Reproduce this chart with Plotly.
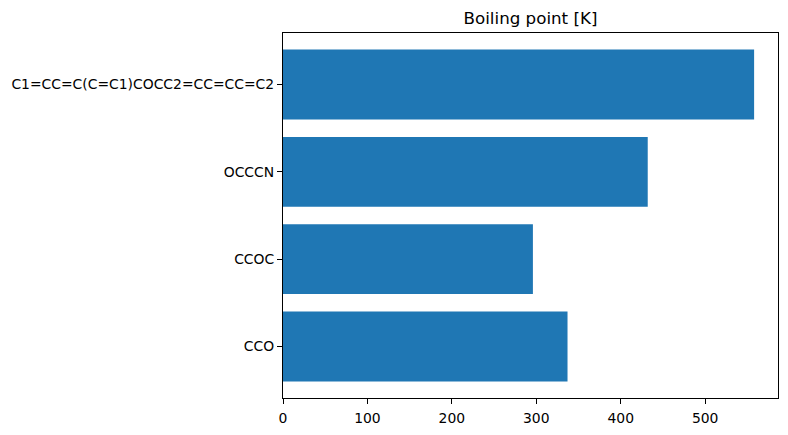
import plotly.graph_objects as go

molecules = ["CCO", "CCOC", "OCCCN", "C1=CC=C(C=C1)COCC2=CC=CC=C2"]
boiling_points = [337, 296, 432, 558]
x_ticks = [0, 100, 200, 300, 400, 500]

fig = go.Figure(
    go.Bar(
        x=boiling_points,
        y=molecules,
        orientation="h",
        width=0.8,
        marker=dict(color="#1f77b4", line=dict(width=0)),
    )
)

font = dict(family="DejaVu Sans", size=13.9, color="black")
axis_common = dict(
    showline=True, linecolor="black", linewidth=1.1, mirror=True,
    ticks="outside", ticklen=5, tickwidth=1.1, tickcolor="black",
    showgrid=False, zeroline=False, tickfont=font,
)

fig.update_layout(
    width=788, height=435,
    margin=dict(l=283, r=9, t=33, b=34),
    paper_bgcolor="white", plot_bgcolor="white",
    showlegend=False,
    title=dict(
        text="Boiling point [K]",
        font=dict(family="DejaVu Sans", size=16.7, color="black"),
        x=0.5, xref="paper", xanchor="center",
        y=1, yref="paper", yanchor="bottom",
        pad=dict(b=9),
    ),
    xaxis=dict(range=[0, 586.3], tickvals=x_ticks, ticklabelstandoff=2, **axis_common),
    yaxis=dict(range=[-0.59, 3.59], type="category", **axis_common),
)

fig.write_html(
    "out.html",
    config={"displayModeBar": False},
    post_script="document.body.style.margin='0';document.body.style.overflow='hidden';",
)
